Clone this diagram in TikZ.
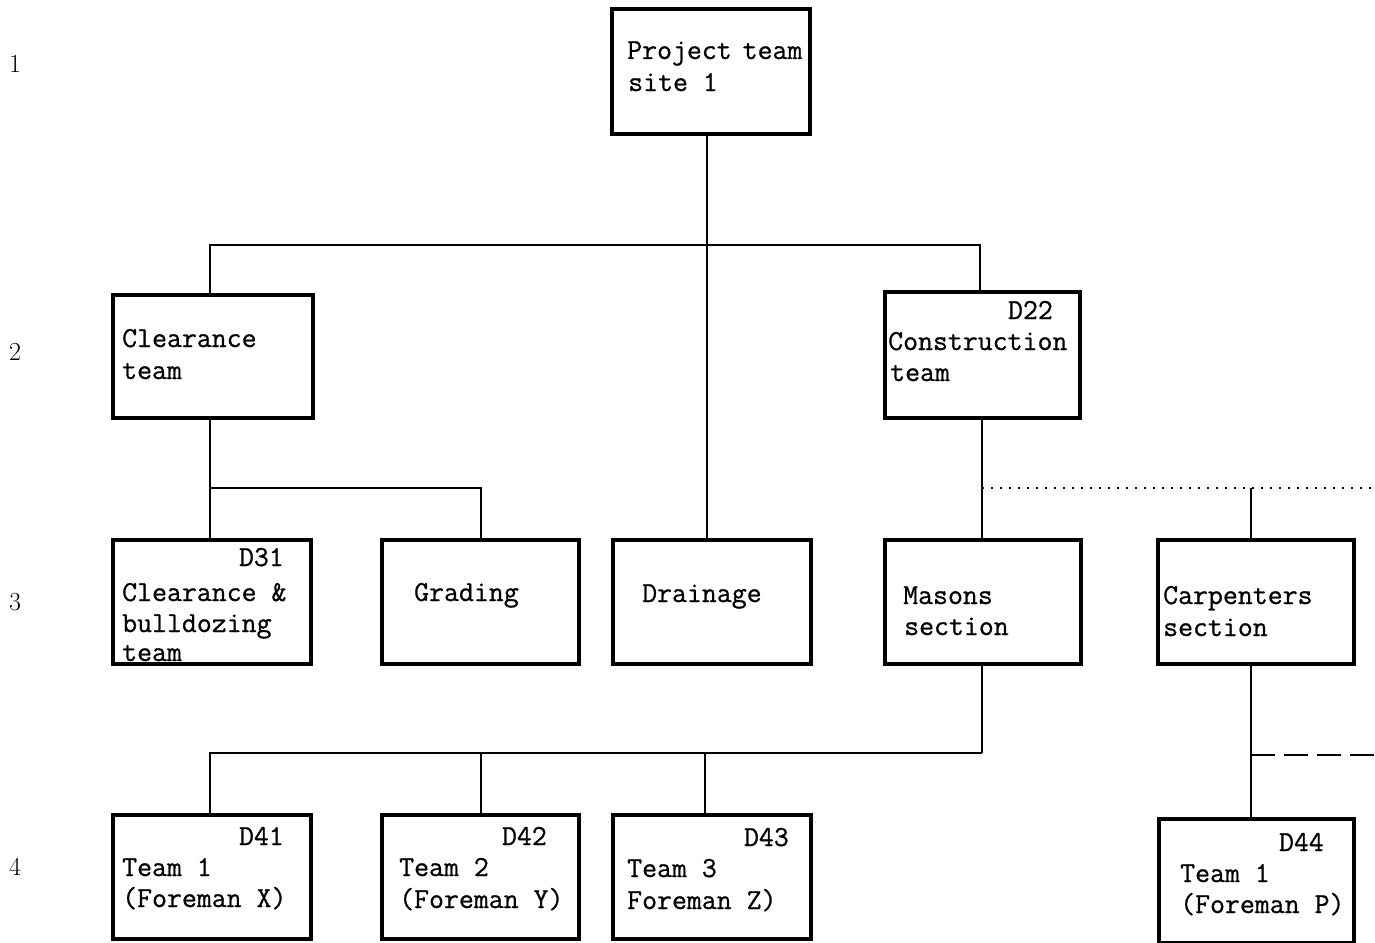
\documentclass[tikz,border=0pt]{standalone}
\usepackage{fontspec}
\newfontfamily\typewriter{Latin Modern Mono}[FakeBold=0.8]
\begin{document}
\begin{tikzpicture}[x=1pt,y=-1pt,
  unit/.style={draw,line width=4pt,rectangle,inner sep=0pt},
  link/.style={line width=2pt},
  dotlink/.style={line width=1.6pt,dash pattern=on 2pt off 7pt},
  dashlink/.style={line width=2pt,dash pattern=on 24pt off 9pt},
  txt/.style={anchor=base west,inner sep=0pt,font=\fontsize{29}{31}\selectfont\typewriter},
  code/.style={anchor=base east,inner sep=0pt,font=\fontsize{29}{31}\selectfont\typewriter},
  level/.style={anchor=base west,inner sep=0pt,font=\fontsize{26}{30}\selectfont}]
\useasboundingbox (0,0) rectangle (1375,942);

% organisation units (box outlines)
\node[unit,minimum width=198pt,minimum height=125pt] (proj)  at (711,71.5) {};
\node[unit,minimum width=200pt,minimum height=123pt] (clear) at (213,356.5) {};
\node[unit,minimum width=195pt,minimum height=126pt] (cons)  at (982.5,355) {};
\node[unit,minimum width=198pt,minimum height=124pt] (bull)  at (212,602) {};
\node[unit,minimum width=197pt,minimum height=124pt] (grad)  at (480.5,602) {};
\node[unit,minimum width=198pt,minimum height=124pt] (drain) at (712,602) {};
\node[unit,minimum width=196pt,minimum height=124pt] (mason) at (983,602) {};
\node[unit,minimum width=196pt,minimum height=124pt] (carp)  at (1256,602) {};
\node[unit,minimum width=198pt,minimum height=124pt] (t1)    at (212,877) {};
\node[unit,minimum width=197pt,minimum height=124pt] (t2)    at (480.5,877) {};
\node[unit,minimum width=198pt,minimum height=124pt] (t3)    at (712,877) {};
\node[unit,minimum width=195pt,minimum height=124pt] (t4)    at (1256.5,881) {};

% branch points
\coordinate (topbar)  at (707,245);
\coordinate (clearbar) at (210,488);
\coordinate (consbar) at (982,488);
\coordinate (carpin)  at (1251,488);
\coordinate (dotend)  at (1375,488);
\coordinate (masonbar) at (982,753);
\coordinate (dashstart) at (1251,755);
\coordinate (dashend) at (1375,755);

% connectors
\draw[link] (proj.south -| topbar) -- (drain.north -| topbar);
\draw[link] (clear.north -| 210,0) |- (topbar) -| (cons.north -| 980,0);
\draw[link] (clear.south -| clearbar) -- (bull.north -| clearbar);
\draw[link] (clearbar) -| (grad.north -| 481,0);
\draw[link] (cons.south -| consbar) -- (mason.north -| consbar);
\draw[dotlink] (consbar) -- (dotend);
\draw[link] (carpin) -- (carp.north -| carpin);
\draw[link] (mason.south -| masonbar) -- (masonbar);
\draw[link] (masonbar) -| (t1.north -| 210,0);
\draw[link] (masonbar) -| (t2.north -| 481,0);
\draw[link] (masonbar) -| (t3.north -| 705,0);
\draw[link] (carp.south -| dashstart) -- (t4.north -| dashstart);
\draw[dashlink] (dashstart) -- (dashend);

% texts
\node[txt] (proj1) at (627,59) {Project\kern-4pt{} team};
\node[txt] (proj2) at (628,91) {site 1};
\node[txt] (clear1) at (122,347) {Clearance};
\node[txt] (clear2) at (122,379) {team};
\node[code] (consc) at (1053,319) {D22};
\node[txt] (cons1) at (888,350) {Construction};
\node[txt] (cons2) at (890,381) {team};
\node[code] (bullc) at (284,566) {D31};
\node[txt] (bull1) at (122,601) {Clearance \&};
\node[txt] (bull2) at (122,632) {bulldozing};
\node[txt] (bull3) at (122,661) {team};
\node[txt] (grad1) at (414,601) {Grading};
\node[txt] (drain1) at (642,602) {Drainage};
\node[txt] (mason1) at (903,604) {Masons};
\node[txt] (mason2) at (904,635) {section};
\node[txt] (carp1) at (1163,604) {Carpenters};
\node[txt] (carp2) at (1163,636) {section};
\node[code] (t1c) at (284,845) {D41};
\node[txt] (t1a) at (122,876) {Team 1};
\node[txt] (t1b) at (122,907) {(Foreman X)};
\node[code] (t2c) at (547,845) {D42};
\node[txt] (t2a) at (399,876) {Team 2};
\node[txt] (t2b) at (399,908) {(Foreman Y)};
\node[code] (t3c) at (789,846) {D43};
\node[txt] (t3a) at (627,877) {Team 3};
\node[txt] (t3b) at (627,909) {Foreman Z)};
\node[code] (t4c) at (1324,851) {D44};
\node[txt] (t4a) at (1180,882) {Team 1};
\node[txt] (t4b) at (1180,913) {(Foreman P)};

% level numbers
\node[level] (lv1) at (9,73) {1};
\node[level] (lv2) at (9,360) {2};
\node[level] (lv3) at (9,610) {3};
\node[level] (lv4) at (9,875) {4};
\end{tikzpicture}
\end{document}
